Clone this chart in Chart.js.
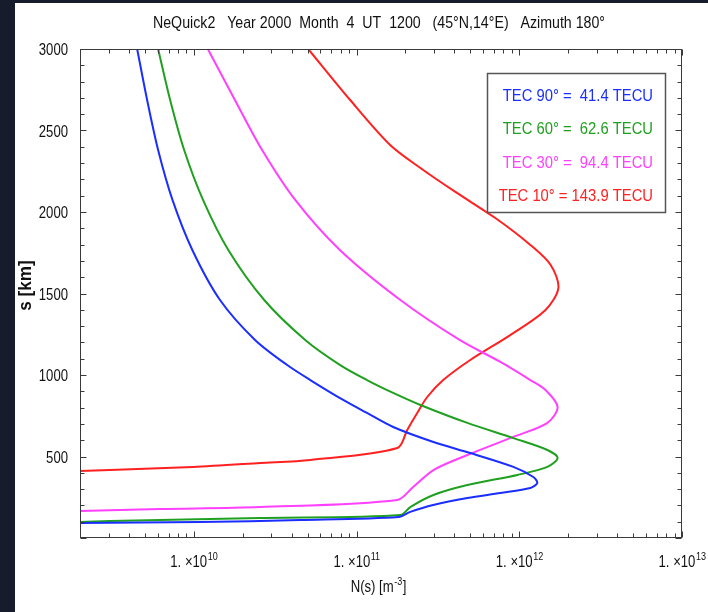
<!DOCTYPE html>
<html><head><meta charset="utf-8">
<script src="https://cdn.jsdelivr.net/npm/chart.js@4.4.1/dist/chart.umd.min.js"></script>
<style>
html,body{margin:0;padding:0;background:#161c2b;width:708px;height:612px;overflow:hidden}
#wrap{position:absolute;left:15px;top:3px;width:693px;height:609px;background:#fff}
canvas{display:block}
</style></head><body>
<div id="wrap"><canvas id="c" width="693" height="609"></canvas></div>
<script>
const FONT = '"Liberation Sans", Arial, sans-serif';
const chartTitle = 'NeQuick2   Year 2000  Month  4  UT  1200   (45°N,14°E)   Azimuth 180°';
const xAxisTitle = ['N(s) [m', '-3', ']'];
const yAxisTitle = 's [km]';
const xTickDecades = [10, 11, 12, 13];
const yTickLabels = [500, 1000, 1500, 2000, 2500, 3000];

const elevations = [90, 60, 30, 10];
const tecValues = ['41.4', '62.6', '94.4', '143.9'];
const seriesColors = ['#1a2eff', '#20a020', '#ff40ff', '#ff2020'];

// s [km] and N(s) [m^-3] for each elevation
const s90 = [92, 98, 110, 129, 160, 202, 245, 276, 307, 337, 374, 436, 521, 589, 681, 767, 847, 969, 1061, 1215, 1460, 1767, 2074, 2380, 2687, 3000];
const n90 = [2.0e9, 1.09e10, 4.5e10, 1.81e11, 2.14e11, 2.96e11, 4.8e11, 7.66e11, 1.17e12, 1.29e12, 1.22e12, 9.2e11, 5.0e11, 2.97e11, 1.68e11, 1.16e11, 8.28e10, 5.2e10, 3.75e10, 2.38e10, 1.45e10, 9.8e9, 7.4e9, 6.04e9, 5.17e9, 4.49e9];

const s60 = [98, 104, 123, 141, 190, 264, 325, 387, 436, 491, 540, 613, 706, 816, 890, 969, 1061, 1215, 1460, 1767, 2074, 2380, 2687, 3000];
const n60 = [2.0e9, 3.05e9, 2.56e10, 1.86e11, 2.14e11, 2.97e11, 4.8e11, 9.75e11, 1.49e12, 1.72e12, 1.49e12, 9.2e11, 4.8e11, 2.47e11, 1.68e11, 1.16e11, 7.94e10, 4.84e10, 2.71e10, 1.63e10, 1.14e10, 8.73e9, 7.16e9, 6.04e9];

const s30 = [166, 178, 190, 233, 313, 417, 509, 620, 706, 804, 908, 969, 1080, 1215, 1460, 1767, 2074, 2380, 2687, 3000];
const n30 = [2.0e9, 6.2e9, 2.56e10, 1.78e11, 2.23e11, 2.97e11, 4.8e11, 9.2e11, 1.49e12, 1.72e12, 1.45e12, 1.17e12, 7.66e11, 4.3e11, 1.86e11, 7.9e10, 4.2e10, 2.63e10, 1.79e10, 1.22e10];

const s10 = [411, 417, 436, 460, 479, 552, 663, 767, 865, 969, 1092, 1245, 1399, 1534, 1675, 1798, 1963, 2123, 2270, 2411, 2687, 3000];
const n10 = [2.0e9, 3.05e9, 9.9e9, 2.56e10, 5.2e10, 1.78e11, 2.05e11, 2.36e11, 2.72e11, 3.41e11, 5.0e11, 8.8e11, 1.45e12, 1.74e12, 1.56e12, 1.17e12, 7.13e11, 4.05e11, 2.47e11, 1.61e11, 9.14e10, 5.05e10];

const heights = [s90, s60, s30, s10];
const densities = [n90, n60, n30, n10];

const datasets = elevations.map((el, i) => ({
  label: 'TEC ' + el + '°',
  data: heights[i].map((h, j) => ({ x: densities[i][j], y: h })),
  showLine: true,
  borderColor: seriesColors[i],
  backgroundColor: seriesColors[i],
  borderWidth: 2,
  pointRadius: 0,
  tension: 0.3,
  fill: false
}));

// draw horizontally condensed text (the reference uses a narrow face)
function txt(ctx, s, x, y, size, sx, align, bold) {
  ctx.save();
  ctx.font = (bold ? 'bold ' : '') + size + 'px ' + FONT;
  ctx.translate(x, y);
  ctx.scale(sx, 1);
  ctx.textAlign = align;
  ctx.fillText(s, 0, 0);
  ctx.restore();
}
function tw(ctx, s, size, sx, bold) {
  ctx.font = (bold ? 'bold ' : '') + size + 'px ' + FONT;
  return ctx.measureText(s).width * sx;
}

const decor = {
  id: 'decor',
  afterDatasetsDraw(chart) {
    const { ctx, chartArea: a, scales: { x, y } } = chart;
    ctx.save();
    // frame
    ctx.strokeStyle = '#3a3a3a';
    ctx.lineWidth = 1;
    const L = Math.round(a.left) + 0.5, R = Math.round(a.right) - 0.5;
    const T = Math.round(a.top) + 0.5, B = Math.round(a.bottom) - 0.5;
    ctx.strokeRect(L, T, R - L, B - T);
    // inward ticks
    ctx.beginPath();
    for (let v = y.min; v <= y.max; v += 100) {
      const py = Math.round(y.getPixelForValue(v)) + 0.5;
      const len = v % 500 === 0 ? 6 : 4;
      ctx.moveTo(L, py); ctx.lineTo(L + len, py);
      ctx.moveTo(R, py); ctx.lineTo(R - len, py);
    }
    x.ticks.forEach(t => {
      const px = Math.round(x.getPixelForValue(t.value)) + 0.5;
      const lg = Math.log10(t.value);
      const len = Math.abs(lg - Math.round(lg)) < 1e-9 ? 6 : 4;
      ctx.moveTo(px, B); ctx.lineTo(px, B - len);
      ctx.moveTo(px, T); ctx.lineTo(px, T + len);
    });
    ctx.stroke();

    ctx.fillStyle = '#111';
    ctx.textBaseline = 'alphabetic';
    const SX = 0.82;
    // y tick labels
    yTickLabels.forEach(v => {
      txt(ctx, String(v), a.left - 12, y.getPixelForValue(v) + 6, 16, SX, 'right');
    });
    // x decade labels with superscripts
    xTickDecades.forEach(e => {
      const px = x.getPixelForValue(Math.pow(10, e));
      const main = '1. ×10', sup = String(e);
      const w1 = tw(ctx, main, 16, SX), w2 = tw(ctx, sup, 11, SX);
      const x0 = px - (w1 + w2) / 2;
      txt(ctx, main, x0, a.bottom + 29, 16, SX, 'left');
      txt(ctx, sup, x0 + w1 + 0.5, a.bottom + 22, 11, SX, 'left');
    });
    // x axis title
    {
      const w1 = tw(ctx, xAxisTitle[0], 16, SX), w2 = tw(ctx, xAxisTitle[1], 11, SX), w3 = tw(ctx, xAxisTitle[2], 16, SX);
      const x0 = (a.left + a.right) / 2 - 3 - (w1 + w2 + w3) / 2;
      const bl = a.bottom + 54;
      txt(ctx, xAxisTitle[0], x0, bl, 16, SX, 'left');
      txt(ctx, xAxisTitle[1], x0 + w1 + 0.5, bl - 7, 11, SX, 'left');
      txt(ctx, xAxisTitle[2], x0 + w1 + w2 + 1, bl, 16, SX, 'left');
    }
    // y axis title
    ctx.save();
    ctx.translate(16, (a.top + a.bottom) / 2 - 8);
    ctx.rotate(-Math.PI / 2);
    txt(ctx, yAxisTitle, 0, 0, 18, 0.95, 'center', true);
    ctx.restore();
    // chart title
    txt(ctx, chartTitle, (a.left + a.right) / 2 - 2, 25, 17, 0.835, 'center');
    // TEC box
    ctx.strokeStyle = '#555';
    ctx.lineWidth = 1.5;
    ctx.strokeRect(472.5, 70.5, 178, 139);
    elevations.forEach((el, i) => {
      ctx.fillStyle = seriesColors[i];
      txt(ctx, 'TEC ' + el + '° = ' + tecValues[i].padStart(5, ' ') + ' TECU', 638, 98 + i * 33.3, 17, 0.87, 'right');
    });
    ctx.restore();
  }
};

new Chart(document.getElementById('c'), {
  type: 'scatter',
  data: { datasets },
  options: {
    responsive: false,
    animation: false,
    layout: { padding: { left: 0, right: 26, top: 46, bottom: 0 } },
    plugins: { legend: { display: false }, tooltip: { enabled: false }, title: { display: false } },
    elements: { point: { radius: 0 } },
    scales: {
      x: {
        type: 'logarithmic', min: 2e9, max: 1e13,
        grid: { display: false, drawTicks: false }, border: { display: false },
        ticks: { display: false },
        afterBuildTicks(scale) {
          const t = [];
          for (let e = 9; e <= 13; e++) for (let k = 1; k <= 9; k++) {
            const v = k * Math.pow(10, e);
            if (v >= scale.min * 0.999 && v <= scale.max * 1.001) t.push({ value: v });
          }
          scale.ticks = t;
        },
        afterFit(scale) { scale.height = 74; scale.paddingLeft = 0; scale.paddingRight = 0; }
      },
      y: {
        type: 'linear', min: 0, max: 3000,
        grid: { display: false, drawTicks: false }, border: { display: false },
        ticks: { display: false, stepSize: 500 },
        afterFit(scale) { scale.width = 65; scale.paddingTop = 0; scale.paddingBottom = 0; }
      }
    }
  },
  plugins: [decor]
});
</script>
</body></html>
